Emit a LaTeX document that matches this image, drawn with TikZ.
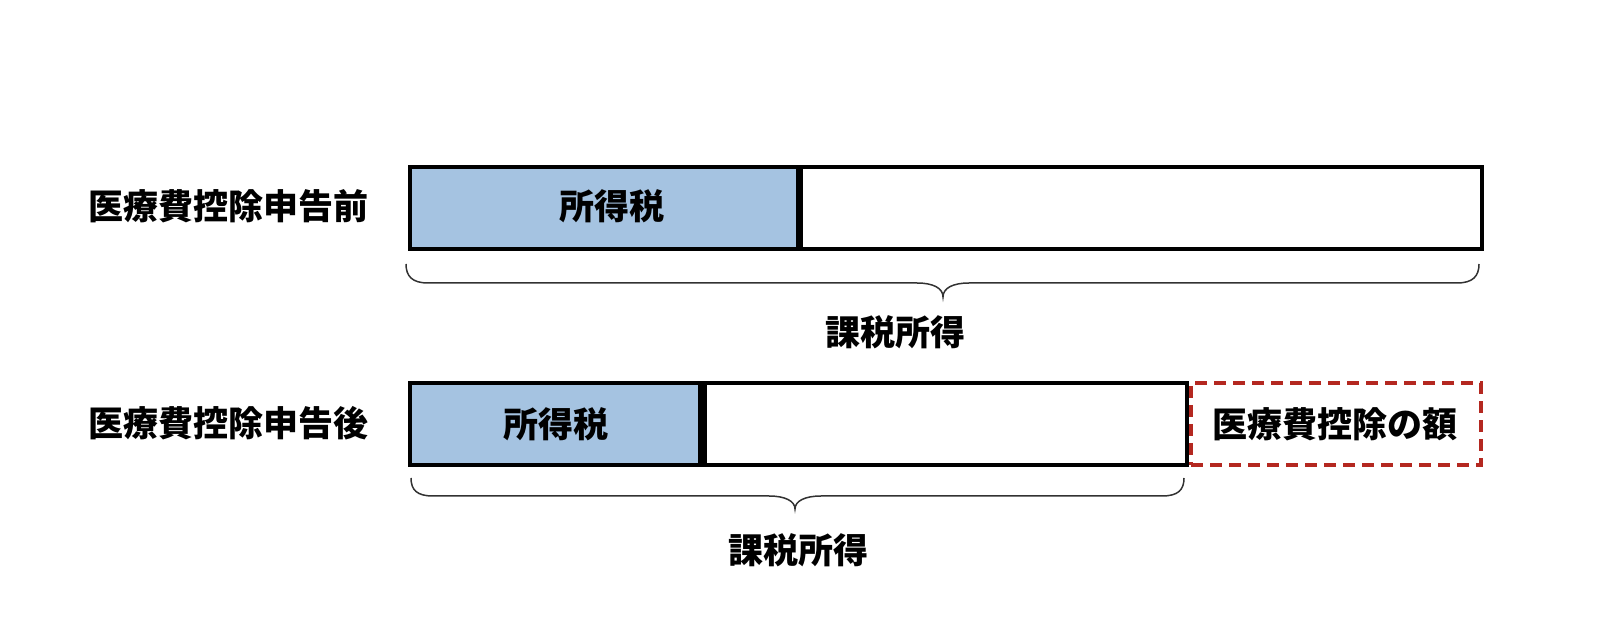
\documentclass[tikz,border=0pt]{standalone}
\usepackage{fontspec}
\newfontfamily\jp{Noto Sans CJK JP}
\definecolor{taxblue}{RGB}{165,195,225}
\definecolor{dedred}{RGB}{180,40,32}
\definecolor{bracegray}{RGB}{50,50,50}
\begin{document}
\begin{tikzpicture}[x=0.5pt,y=-0.5pt,
  bar/.style={draw=black, line width=1.65pt, rectangle, inner sep=0pt, minimum height=41pt},
  taxbar/.style={bar, fill=taxblue},
  divider/.style={draw=black, line width=#1},
  dedbox/.style={draw=dedred, line width=1.8pt, dash pattern=on 6pt off 3.5pt, rectangle, inner sep=0pt, minimum height=41pt},
  lbl/.style={font=\jp\bfseries\fontsize{17.5}{21}\selectfont, inner sep=0pt, text=black},
  brc/.style={line width=0.75pt, draw=bracegray}]
\useasboundingbox (0,0) rectangle (1600,635);
% before
\node[lbl] (lblBefore) at (228,206) {医療費控除申告前};
\node[taxbar, minimum width=194pt] (taxA) at (604,208) {};
\node[bar, minimum width=341pt] (restA) at (1141,208) {};
\draw[divider=2.6pt] ([xshift=0.25pt]taxA.north east) -- ([xshift=0.25pt]taxA.south east);
\node[lbl] (taxAtxt) at (612,206) {所得税};
\draw[brc] (406,264) .. controls (406,276) and (412,283) .. (428,283) -- (917,283)
  .. controls (933,283) and (943,288) .. (943,297)
  .. controls (943,288) and (953,283) .. (969,283) -- (1457,283)
  .. controls (1473,283) and (1479,276) .. (1479,264);
\node[lbl] (incA) at (895,332) {課税所得};
% after
\node[lbl] (lblAfter) at (228,423) {医療費控除申告後};
\node[taxbar, minimum width=145pt] (taxB) at (555,424) {};
\node[bar, minimum width=242pt] (restB) at (945,424) {};
\draw[divider=3.5pt] ([xshift=0.75pt]taxB.north east) -- ([xshift=0.75pt]taxB.south east);
\node[dedbox, minimum width=145pt] (dedB) at (1336,424) {};
\node[lbl] (taxBtxt) at (556,424) {所得税};
\node[lbl] (dedtxt) at (1335,424) {医療費控除の額};
\draw[brc] (411,478) .. controls (411,490) and (417,496) .. (433,496) -- (769,496)
  .. controls (785,496) and (795,501) .. (795,509)
  .. controls (795,501) and (805,496) .. (821,496) -- (1162,496)
  .. controls (1178,496) and (1184,490) .. (1184,478);
\node[lbl] (incB) at (798,550) {課税所得};
\end{tikzpicture}
\end{document}
